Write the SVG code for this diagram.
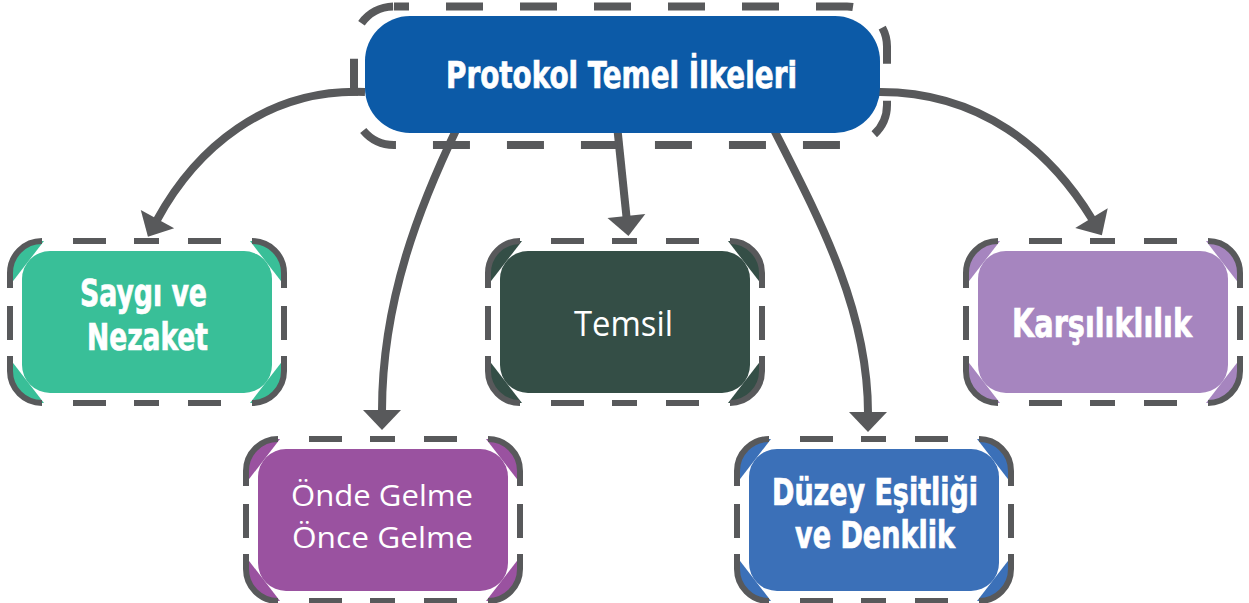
<svg xmlns="http://www.w3.org/2000/svg" xmlns:xlink="http://www.w3.org/1999/xlink" width="1249" height="603" viewBox="0 0 1249 603">
  <style>
    .conn { fill: none; stroke: #58595B; stroke-width: 8; marker-end: url(#arrow); }
    .frame { fill: none; stroke: #58595B; stroke-width: 6; stroke-linecap: butt; }
    .topframe { fill: none; stroke: #58595B; stroke-width: 8; stroke-dasharray: 37 37; stroke-dashoffset: 22; }
    .band { fill: #FFFFFF; }
    .bold { font-family: "Liberation Sans Narrow", "DejaVu Sans Condensed", "DejaVu Sans", sans-serif; font-weight: bold; fill: #FFFFFF; stroke: #FFFFFF; stroke-width: 0.7; }
    .light { font-family: "Open Sans", "Lato", sans-serif; font-weight: normal; fill: #FFFFFF; }
  </style>
  <defs>
    <marker id="arrow" markerUnits="userSpaceOnUse" viewBox="-2 -20 22 40" refX="0" refY="0" markerWidth="22" markerHeight="40" orient="auto">
      <path d="M-1,-19 L19,0 L-1,19 Z" fill="#58595B"/>
    </marker>
    <!-- white band between the dashed outline and the inner panel, bevelled at the corners -->
    <polygon id="band" class="band" points="0,44 34,0 240,0 274,44 274,118 240,162 34,162 0,118"/>
    <!-- dashed outline of a 274x162 child box -->
    <path id="frame" class="frame" d="M0,47 L0,32 A32,32 0 0 1 32,0 M63,0 H96 M124,0 H149 M178,0 H211 M242,0 A32,32 0 0 1 274,32 L274,47 M274,65 V99 M274,115 L274,130 A32,32 0 0 1 242,162 M211,162 H178 M149,162 H124 M96,162 H63 M32,162 A32,32 0 0 1 0,130 L0,115 M0,99 V65"/>
  </defs>

  <rect width="1249" height="603" fill="#FFFFFF"/>

  <g id="connectors">
    <path class="conn" d="M365,92 C265,88 195,150 157,220"/>
    <path class="conn" d="M458,126 C420,205 382,300 382,411"/>
    <path class="conn" d="M617,125 L626.5,217"/>
    <path class="conn" d="M772,126 C820,220 868,310 868,413"/>
    <path class="conn" d="M875,92 C980,90 1050,150 1092,219"/>
  </g>

  <g id="node-protokol">
    <rect x="365" y="16" width="515" height="117" rx="45" fill="#0C5AA7"/>
    <rect class="topframe" x="354" y="6.5" width="533" height="138.5" rx="40"/>
    <text class="bold" x="446" y="88" font-size="38" textLength="351" lengthAdjust="spacingAndGlyphs">Protokol Temel İlkeleri</text>
  </g>

  <g id="node-saygi" transform="translate(10,241)">
    <rect width="274" height="162" rx="32" fill="#39BF98"/>
    <use href="#band" xlink:href="#band"/>
    <rect x="12" y="10" width="250" height="142" rx="28" fill="#39BF98"/>
    <use href="#frame" xlink:href="#frame"/>
    <text class="bold" x="70" y="65" font-size="37" textLength="127" lengthAdjust="spacingAndGlyphs">Saygı ve</text>
    <text class="bold" x="77" y="109" font-size="37" textLength="121" lengthAdjust="spacingAndGlyphs">Nezaket</text>
  </g>

  <g id="node-temsil" transform="translate(488,241)">
    <rect width="274" height="162" rx="32" fill="#344E46"/>
    <use href="#band" xlink:href="#band"/>
    <rect x="12" y="10" width="250" height="142" rx="28" fill="#344E46"/>
    <use href="#frame" xlink:href="#frame"/>
    <text class="light" x="86" y="95" font-size="35" textLength="99" lengthAdjust="spacingAndGlyphs">Temsil</text>
  </g>

  <g id="node-karsilik" transform="translate(966,241)">
    <rect width="274" height="162" rx="32" fill="#A685BF"/>
    <use href="#band" xlink:href="#band"/>
    <rect x="12" y="10" width="250" height="142" rx="28" fill="#A685BF"/>
    <use href="#frame" xlink:href="#frame"/>
    <text class="bold" x="46" y="96" font-size="39" textLength="180" lengthAdjust="spacingAndGlyphs">Karşılıklılık</text>
  </g>

  <g id="node-onde" transform="translate(246,439)">
    <rect width="274" height="162" rx="32" fill="#9A52A0"/>
    <use href="#band" xlink:href="#band"/>
    <rect x="12" y="10" width="250" height="142" rx="28" fill="#9A52A0"/>
    <use href="#frame" xlink:href="#frame"/>
    <text class="light" x="45" y="67" font-size="30" textLength="182" lengthAdjust="spacingAndGlyphs">Önde Gelme</text>
    <text class="light" x="46" y="109" font-size="30" textLength="181" lengthAdjust="spacingAndGlyphs">Önce Gelme</text>
  </g>

  <g id="node-duzey" transform="translate(737,439)">
    <rect width="274" height="162" rx="32" fill="#3B70B8"/>
    <use href="#band" xlink:href="#band"/>
    <rect x="12" y="10" width="250" height="142" rx="28" fill="#3B70B8"/>
    <use href="#frame" xlink:href="#frame"/>
    <text class="bold" x="35" y="66" font-size="37" textLength="206" lengthAdjust="spacingAndGlyphs">Düzey Eşitliği</text>
    <text class="bold" x="58" y="109" font-size="37" textLength="160" lengthAdjust="spacingAndGlyphs">ve Denklik</text>
  </g>
</svg>
